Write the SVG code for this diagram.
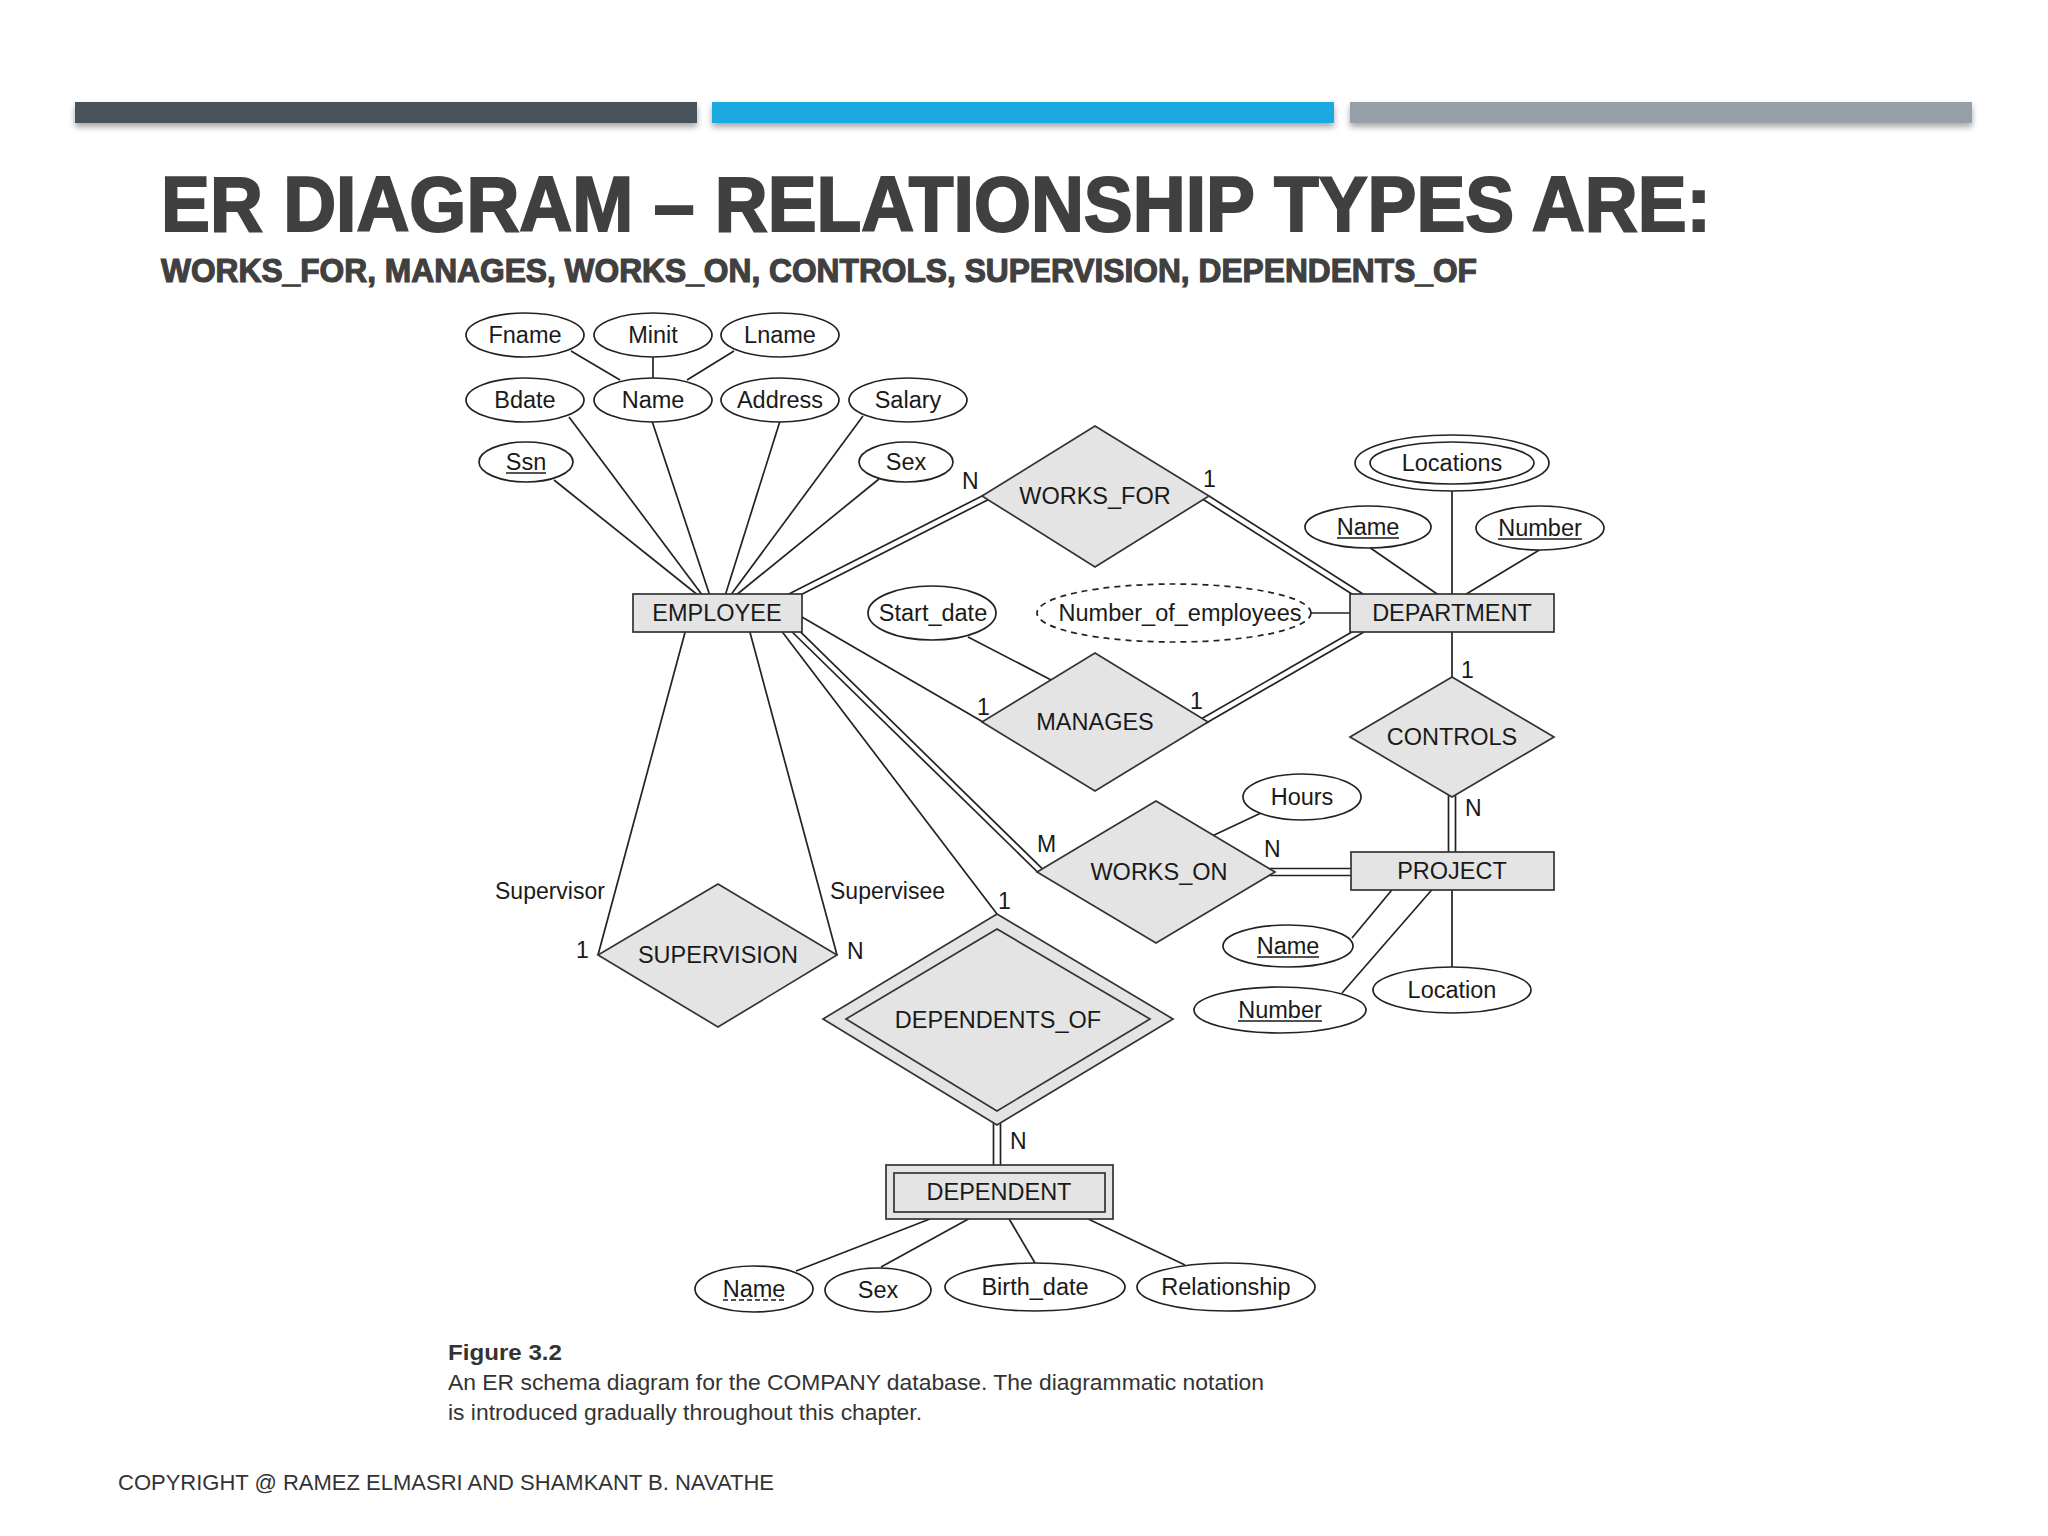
<svg xmlns="http://www.w3.org/2000/svg" width="2048" height="1536" viewBox="0 0 2048 1536">
<defs>
<filter id="sh" x="-5%" y="-50%" width="110%" height="250%">
<feDropShadow dx="0" dy="4" stdDeviation="3" flood-color="#000" flood-opacity="0.35"/>
</filter>
</defs>
<style>
.ln{stroke:#222;stroke-width:1.7;fill:none}
.ent{fill:#e4e4e4;stroke:#333;stroke-width:1.7}
.rel{fill:#e4e4e4;stroke:#333;stroke-width:1.7}
.attr{fill:#fff;stroke:#222;stroke-width:1.7}
.t{font-family:"Liberation Sans",Arial,sans-serif;font-size:23.5px;fill:#1a1a1a;text-anchor:middle}
.lb{font-family:"Liberation Sans",Arial,sans-serif;font-size:23px;fill:#1a1a1a}
.ul{stroke:#1a1a1a;stroke-width:1.5}
.hd{font-family:"Liberation Sans",Arial,sans-serif;font-weight:bold;fill:#404040;stroke:#404040}
.cap{font-family:"Liberation Sans",Arial,sans-serif;font-size:22px;fill:#333}
</style>
<rect width="2048" height="1536" fill="#fff"/>
<g id="bars" filter="url(#sh)">
<rect x="75" y="102" width="622" height="21" fill="#48535b"/>
<rect x="712" y="102" width="622" height="21" fill="#1fa9e1"/>
<rect x="1350" y="102" width="622" height="21" fill="#969fa7"/>
</g>
<text class="hd" x="161" y="231" font-size="78" stroke-width="2" textLength="1550" lengthAdjust="spacingAndGlyphs">ER DIAGRAM – RELATIONSHIP TYPES ARE:</text>
<text class="hd" x="161" y="282" font-size="34" stroke-width="1.2" textLength="1316" lengthAdjust="spacingAndGlyphs">WORKS_FOR, MANAGES, WORKS_ON, CONTROLS, SUPERVISION, DEPENDENTS_OF</text>

<g id="connectors">
<line class="ln" x1="571" y1="351" x2="620" y2="380"/>
<line class="ln" x1="653" y1="356" x2="653" y2="379"/>
<line class="ln" x1="734" y1="351" x2="687" y2="380"/>
<line class="ln" x1="554" y1="480" x2="699" y2="596"/>
<line class="ln" x1="569" y1="417" x2="703" y2="596"/>
<line class="ln" x1="652" y1="421" x2="710" y2="596"/>
<line class="ln" x1="780" y1="421" x2="725" y2="596"/>
<line class="ln" x1="863" y1="416" x2="730" y2="596"/>
<line class="ln" x1="879" y1="479" x2="735" y2="596"/>
<line class="ln" x1="985" y1="494.5" x2="776" y2="600.6"/>
<line class="ln" x1="993" y1="497.2" x2="778.7" y2="606"/>
<line class="ln" x1="1209" y1="496" x2="1372" y2="599.7"/>
<line class="ln" x1="1199" y1="496.8" x2="1368.8" y2="604.8"/>
<line class="ln" x1="795" y1="613" x2="983" y2="722"/>
<line class="ln" x1="968" y1="637" x2="1055" y2="682"/>
<line class="ln" x1="1205" y1="723.7" x2="1373" y2="626.8"/>
<line class="ln" x1="1198" y1="720.8" x2="1370" y2="621.6"/>
<line class="ln" x1="1452" y1="491" x2="1452" y2="596"/>
<line class="ln" x1="1369" y1="547" x2="1440" y2="596"/>
<line class="ln" x1="1541" y1="549" x2="1463" y2="596"/>
<line class="ln" x1="1311" y1="613" x2="1352" y2="613"/>
<line class="ln" x1="1452" y1="630" x2="1452" y2="679"/>
<line class="ln" x1="1448.5" y1="790" x2="1448.5" y2="856"/>
<line class="ln" x1="1455.5" y1="790" x2="1455.5" y2="856"/>
<line class="ln" x1="785" y1="625" x2="1038" y2="872.5"/>
<line class="ln" x1="789" y1="620.7" x2="1045.5" y2="871.9"/>
<line class="ln" x1="1261" y1="813" x2="1210" y2="837"/>
<line class="ln" x1="1262" y1="868.5" x2="1355" y2="868.5"/>
<line class="ln" x1="1262" y1="875.5" x2="1355" y2="875.5"/>
<line class="ln" x1="1396" y1="885" x2="1352" y2="938"/>
<line class="ln" x1="1436" y1="885" x2="1342" y2="993"/>
<line class="ln" x1="1452" y1="888" x2="1452" y2="967"/>
<line class="ln" x1="687" y1="625" x2="598" y2="955"/>
<line class="ln" x1="748" y1="625" x2="837" y2="955"/>
<line class="ln" x1="777" y1="625" x2="997" y2="914"/>
<line class="ln" x1="993.5" y1="1115" x2="993.5" y2="1168"/>
<line class="ln" x1="1000.5" y1="1115" x2="1000.5" y2="1168"/>
<line class="ln" x1="796" y1="1271" x2="935" y2="1217"/>
<line class="ln" x1="881" y1="1267" x2="972" y2="1217"/>
<line class="ln" x1="1035" y1="1263" x2="1008" y2="1217"/>
<line class="ln" x1="1185" y1="1265" x2="1084" y2="1217"/>
</g>

<g id="labels">
<text class="lb" x="962" y="489">N</text>
<text class="lb" x="1203" y="487">1</text>
<text class="lb" x="977" y="715">1</text>
<text class="lb" x="1190" y="709">1</text>
<text class="lb" x="1461" y="678">1</text>
<text class="lb" x="1465" y="816">N</text>
<text class="lb" x="1037" y="852">M</text>
<text class="lb" x="1264" y="857">N</text>
<text class="lb" x="495" y="899">Supervisor</text>
<text class="lb" x="830" y="899">Supervisee</text>
<text class="lb" x="576" y="958">1</text>
<text class="lb" x="847" y="959">N</text>
<text class="lb" x="998" y="909">1</text>
<text class="lb" x="1010" y="1149">N</text>
</g>

<g id="attr-fname"><ellipse class="attr" cx="525" cy="335" rx="59" ry="22"/><text class="t" x="525" y="343">Fname</text></g>
<g id="attr-minit"><ellipse class="attr" cx="653" cy="335" rx="59" ry="22"/><text class="t" x="653" y="343">Minit</text></g>
<g id="attr-lname"><ellipse class="attr" cx="780" cy="335" rx="59" ry="22"/><text class="t" x="780" y="343">Lname</text></g>
<g id="attr-bdate"><ellipse class="attr" cx="525" cy="400" rx="59" ry="22"/><text class="t" x="525" y="408">Bdate</text></g>
<g id="attr-name"><ellipse class="attr" cx="653" cy="400" rx="59" ry="22"/><text class="t" x="653" y="408">Name</text></g>
<g id="attr-address"><ellipse class="attr" cx="780" cy="400" rx="59" ry="22"/><text class="t" x="780" y="408">Address</text></g>
<g id="attr-salary"><ellipse class="attr" cx="908" cy="400" rx="59" ry="22"/><text class="t" x="908" y="408">Salary</text></g>
<g id="attr-ssn"><ellipse class="attr" cx="526" cy="462" rx="47" ry="20"/><text class="t" x="526" y="470">Ssn</text><line class="ul" x1="506" y1="473" x2="546" y2="473"/></g>
<g id="attr-sex"><ellipse class="attr" cx="906" cy="462" rx="47" ry="20"/><text class="t" x="906" y="470">Sex</text></g>

<g id="employee"><rect class="ent" x="633" y="594" width="169" height="38"/><text class="t" x="717" y="621">EMPLOYEE</text></g>
<g id="department"><rect class="ent" x="1350" y="594" width="204" height="38"/><text class="t" x="1452" y="621">DEPARTMENT</text></g>
<g id="project"><rect class="ent" x="1351" y="852" width="203" height="38"/><text class="t" x="1452" y="879">PROJECT</text></g>
<g id="dependent"><rect class="ent" x="886" y="1165" width="227" height="54"/><rect class="ent" x="894" y="1173" width="211" height="39"/><text class="t" x="999" y="1200">DEPENDENT</text></g>

<g id="works_for"><polygon class="rel" points="1095,426 1209,496 1095,567 982,496"/><text class="t" x="1095" y="504">WORKS_FOR</text></g>
<g id="manages"><polygon class="rel" points="1095,653 1208,722 1095,791 982,722"/><text class="t" x="1095" y="730">MANAGES</text></g>
<g id="controls"><polygon class="rel" points="1452,677 1554,737 1452,797 1350,737"/><text class="t" x="1452" y="745">CONTROLS</text></g>
<g id="works_on"><polygon class="rel" points="1156,801 1275,872 1156,943 1037,872"/><text class="t" x="1159" y="880">WORKS_ON</text></g>
<g id="supervision"><polygon class="rel" points="718,884 837,955 718,1027 598,955"/><text class="t" x="718" y="963">SUPERVISION</text></g>
<g id="dependents_of"><polygon class="rel" points="997,914 1173,1019 997,1125 823,1019"/><polygon class="rel" points="997,929 1150,1019 997,1111 846,1019"/><text class="t" x="998" y="1028">DEPENDENTS_OF</text></g>

<g id="attr-start_date"><ellipse class="attr" cx="932" cy="613" rx="64" ry="27"/><text class="t" x="933" y="621">Start_date</text></g>
<g id="attr-num_emp"><ellipse class="attr" cx="1174" cy="613" rx="137" ry="29" stroke-dasharray="6,5"/><text class="t" x="1180" y="621">Number_of_employees</text></g>
<g id="attr-locations"><ellipse class="attr" cx="1452" cy="463" rx="97" ry="28"/><ellipse class="attr" cx="1452" cy="463" rx="82" ry="21"/><text class="t" x="1452" y="471">Locations</text></g>
<g id="attr-dname"><ellipse class="attr" cx="1368" cy="527" rx="63" ry="21"/><text class="t" x="1368" y="535">Name</text><line class="ul" x1="1337" y1="538" x2="1399" y2="538"/></g>
<g id="attr-dnumber"><ellipse class="attr" cx="1540" cy="528" rx="64" ry="22"/><text class="t" x="1540" y="536">Number</text><line class="ul" x1="1498" y1="539" x2="1582" y2="539"/></g>
<g id="attr-hours"><ellipse class="attr" cx="1302" cy="797" rx="59" ry="23"/><text class="t" x="1302" y="805">Hours</text></g>
<g id="attr-pname"><ellipse class="attr" cx="1288" cy="946" rx="65" ry="21"/><text class="t" x="1288" y="954">Name</text><line class="ul" x1="1257" y1="957" x2="1319" y2="957"/></g>
<g id="attr-pnumber"><ellipse class="attr" cx="1280" cy="1010" rx="86" ry="23"/><text class="t" x="1280" y="1018">Number</text><line class="ul" x1="1238" y1="1021" x2="1322" y2="1021"/></g>
<g id="attr-plocation"><ellipse class="attr" cx="1452" cy="990" rx="79" ry="23"/><text class="t" x="1452" y="998">Location</text></g>
<g id="attr-depname"><ellipse class="attr" cx="754" cy="1289" rx="59" ry="23"/><text class="t" x="754" y="1297">Name</text><line class="ul" x1="723" y1="1300" x2="785" y2="1300" stroke-dasharray="5,3"/></g>
<g id="attr-depsex"><ellipse class="attr" cx="878" cy="1290" rx="53" ry="22"/><text class="t" x="878" y="1298">Sex</text></g>
<g id="attr-birth"><ellipse class="attr" cx="1035" cy="1287" rx="90" ry="24"/><text class="t" x="1035" y="1295">Birth_date</text></g>
<g id="attr-relationship"><ellipse class="attr" cx="1226" cy="1287" rx="89" ry="24"/><text class="t" x="1226" y="1295">Relationship</text></g>

<text class="cap" x="448" y="1360" font-weight="bold" fill="#111" textLength="114" lengthAdjust="spacingAndGlyphs">Figure 3.2</text>
<text class="cap" x="448" y="1390" textLength="816" lengthAdjust="spacingAndGlyphs">An ER schema diagram for the COMPANY database. The diagrammatic notation</text>
<text class="cap" x="448" y="1420" textLength="474" lengthAdjust="spacingAndGlyphs">is introduced gradually throughout this chapter.</text>
<text class="cap" x="118" y="1490" fill="#404040" textLength="656" lengthAdjust="spacingAndGlyphs">COPYRIGHT @ RAMEZ ELMASRI AND SHAMKANT B. NAVATHE</text>
</svg>
